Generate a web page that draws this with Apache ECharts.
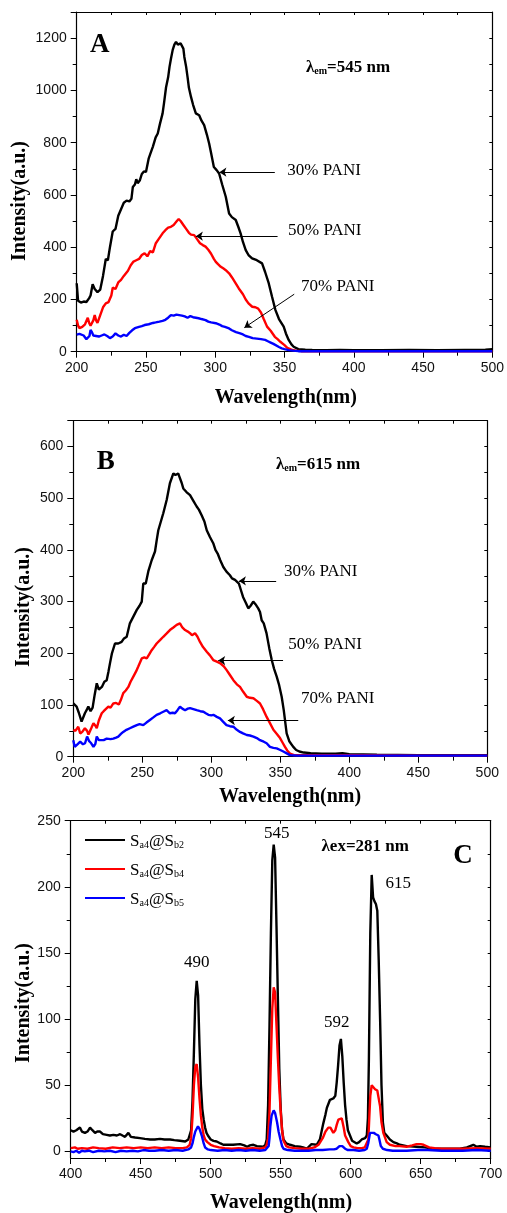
<!DOCTYPE html>
<html><head><meta charset="utf-8">
<script src="https://cdn.jsdelivr.net/npm/echarts@6/dist/echarts.min.js"></script>
<style>html,body{margin:0;padding:0;background:#fff}#c{width:507px;height:1213px}</style>
</head><body><div id="c"></div>
<script>
// ---------- Panel A (λem = 545 nm) ----------
const aBlack = [[200,262],[201,195],[203,188],[205,192],[207,190],[209,205],[210,215],[211.5,258],[213,240],[215,228],[217,238],[219,290],[221,355],[222.5,350],[224,400],[226,460],[228,470],[230,520],[232,545],[234,570],[236,578],[238,575],[239.5,585],[240.5,630],[242,640],[243,660],[244,645],[245.5,655],[247,680],[248.5,690],[250,688],[252,740],[253,755],[255,785],[257,820],[258.5,835],[260,870],[262,912],[263,950],[264.5,1012],[266,1050],[267,1090],[268,1120],[269.3,1155],[270.5,1175],[271.7,1186],[273,1175],[274,1168],[275,1180],[276,1186],[277,1160],[277.7,1128],[279,1090],[280,1052],[281,1010],[282.5,975],[284,945],[286,912],[287,905],[288.4,905],[290,885],[292,867],[294,830],[295.6,797],[297,760],[299,707],[301,695],[302.8,682],[305,640],[307.6,593],[310,529],[312,515],[314.8,504],[316.5,480],[318.3,453],[320,420],[322,389],[324,370],[326.6,357],[330,350],[333.8,338],[336,305],[338.6,262],[341,210],[343.4,160],[346,125],[349.4,96],[351,70],[353,45],[355,28],[356.6,19],[358,13],[360,10],[365,8],[370,7],[380,6],[390,7],[400,6],[420,6],[440,7],[460,6],[480,7],[495,8],[500,10]];
const aRed = [[200,122],[201,100],[202,90],[204,95],[206,105],[208,130],[209,110],[210,100],[212,120],[213,140],[214,120],[215,110],[217,140],[219,170],[221,185],[223,190],[225,215],[226,245],[228,240],[230,265],[232,275],[234,290],[235,293],[237,310],[239,331],[241,345],[243,350],[245,355],[247,370],[249,377],[251,365],[253,385],[255,380],[257,414],[259,430],[262,453],[264,465],[266,475],[268,478],[270,485],[272,498],[273.6,508],[275,500],[277,485],[279,470],[281,455],[282.5,448],[284.8,446],[287,430],[289,415],[291,408],[293,402],[295,390],[297,375],[299,355],[300.4,344],[302,335],[304,325],[306,318],[307.6,312],[310,300],[312,285],[314,268],[317,242],[320,220],[322,200],[324,185],[326.7,172],[329,170],[331,165],[333,150],[335,125],[337.4,96],[340,80],[343,57],[345,48],[347,38],[350,25],[352,15],[355,8],[358,4],[362,2],[380,2],[420,2],[460,2],[500,2]];
const aBlue = [[200,65],[202,68],[203,70],[205,62],[207,48],[208.4,42],[209.2,60],[210,83],[211,75],[212,62],[214,60],[216,58],[218,62],[220,66],[222,60],[224,52],[226,58],[228,70],[230,62],[232,58],[234,65],[236,60],[238,72],[240,82],[242,90],[245,95],[247,98],[249,102],[252,105],[255,110],[257,112],[259.7,115],[262,118],[264,122],[266,130],[268,140],[270,138],[272,142],[274,140],[276,138],[278,135],[280,130],[282,136],[284,132],[286,130],[288,128],[290,125],[293,121],[295,115],[297,112],[300.4,109],[303,104],[305,98],[307,95],[310,89],[312,82],[315,75],[318,70],[320,66],[322,60],[324.3,57],[327,52],[330,50],[333,48],[336,45],[338,40],[340,35],[342,30],[343.4,26],[346,18],[348,13],[350,10],[353,6],[356,4],[360,2],[380,2],[420,2],[460,2],[500,2]];

// ---------- Panel B (λem = 615 nm) ----------
const bBlack = [[200,103],[201,100],[202.4,97],[204,85],[206,68],[207,70],[208.4,84],[210,92],[210.9,97],[212.5,88],[214,95],[215.5,120],[217,142],[218.5,130],[220.7,135],[222.5,145],[224.2,148],[225.5,165],[226.6,181],[228,200],[230.2,219],[232.6,219],[235,222],[236.5,228],[238.7,232],[241,258],[243.5,271],[246,284],[248,292],[249.6,300],[250.7,335],[252.5,335],[254.5,360],[256.8,380],[259.2,397],[260.5,420],[261.6,438],[263,440],[265.2,471],[267.7,497],[270,529],[272.5,548],[274,545],[275,542],[276,548],[277.3,550],[278.5,530],[279.7,519],[282,512],[284.6,506],[287,495],[289.4,484],[291,478],[293,467],[295,455],[296.7,438],[299,425],[301.4,413],[303,400],[304.6,393],[306.5,380],[308.7,367],[311,358],[313.5,351],[315,345],[317.2,342],[320,335],[321.5,322],[323,309],[325,298],[326.8,287],[328.5,292],[330.4,300],[332,295],[334,287],[335.3,280],[336.5,264],[338,258],[340,239],[342,210],[343.8,187],[345.5,170],[347.4,155],[349,140],[351,116],[352.5,90],[354.6,45],[356.5,30],[359.4,19],[361.5,13],[363.8,10],[367,8],[372,7],[380,6],[390,6],[395,7],[400,5],[420,4],[450,3],[480,3],[500,3]];
const bRed = [[200,52],[201.5,50],[203.6,58],[205,45],[206.5,48],[208.4,55],[210,50],[211,43],[213,55],[214.6,65],[216,60],[217,55],[218.5,70],[220.6,84],[222,88],[223.5,92],[225.4,97],[227,95],[229,103],[231,104],[233,101],[234.5,110],[236.2,123],[238,128],[239.9,135],[241.5,145],[243.5,155],[245.5,165],[247,174],[249.6,190],[251.5,192],[253.2,190],[255,198],[256.8,206],[258.5,212],[260.4,219],[263,226],[265.2,232],[267.5,238],[270,245],[272.5,250],[274.9,255],[276,253],[277.3,258],[279,250],[281,245],[283,242],[284.6,239],[286,235],[288.2,239],[290,232],[291.8,222],[294,212],[296.7,203],[299,196],[301.4,187],[304,184],[306.3,181],[309,175],[311,168],[313.5,158],[316,148],[318.5,140],[320.8,135],[323,126],[325.7,116],[328,114],[330.5,113],[333,108],[335.3,103],[337.5,92],[340.1,77],[342.5,65],[345,52],[347.5,44],[349.8,36],[351.5,28],[353.4,19],[355,12],[357,6],[360,3],[370,3],[400,3],[450,2],[500,2]];
const bBlue = [[200,32],[201,19],[203,24],[205,29],[207,24],[208.5,26],[210,39],[211.5,30],[213,26],[214.6,19],[216,25],[217,39],[218.5,32],[219.5,29],[222,32],[224.2,35],[227,34],[229,35],[231,37],[232.6,39],[234.5,44],[236.2,48],[238.5,52],[241,55],[243.5,58],[246,61],[248,63],[250.7,61],[253,66],[255.5,71],[258,76],[260.4,81],[263,84],[265.2,87],[267.6,90],[270,84],[272,85],[273.7,84],[275.5,90],[277.3,97],[279,93],[281,90],[283,93],[284.6,94],[287,92],[289.4,90],[292,88],[294.3,87],[296,84],[297.9,81],[300,80],[301.5,81],[304,77],[306.3,74],[308.5,68],[311,61],[313.5,59],[316,58],[318.5,52],[320.8,48],[323,45],[325.7,42],[328,41],[330.5,39],[333,36],[335.3,32],[338,29],[340.1,26],[342.5,19],[345,17],[347.4,16],[350,13],[352.2,10],[355,6],[357,3],[362,2],[400,2],[450,2],[500,2]];

// ---------- Panel C (λex = 281 nm) ----------
const cBlack = [[400,16],[402,15],[404,16],[406.6,18],[408,15],[410.2,14],[412,15],[413.8,18],[415.5,16],[417.4,14],[419,15],[421,15],[423,13],[425.7,12.5],[428,12],[430.5,12.5],[433,12],[435.3,13],[437,12],[438.8,11],[441.2,14],[443,11],[446,10.5],[449.5,10],[453,9.5],[456.7,9],[460,9],[463.8,9.5],[467,9],[471,9],[474,8.5],[478,8],[481.8,7.5],[483,8],[484,9],[485,10],[486,16],[487,38],[488,75],[489,115],[490,129],[491,118],[492,80],[493,50],[494,32],[495,24],[496,18],[497,14],[498,12],[500,9],[502,8],[504.3,7.5],[507,6],[509,5],[512,5],[516,5],[521,5.5],[524,4.5],[526,3.5],[528,4.5],[530.5,5],[533,4],[537.5,3.5],[539,5],[540,9],[541,35],[542,95],[543,165],[544,220],[545,232],[546,222],[547,170],[548,115],[549,62],[550,32],[551,16],[552,9],[554,6],[556.7,5],[560,4],[563.8,3.5],[566,3],[568.6,2],[570,3],[572,5.5],[575.7,5],[578,9],[579,14],[580.4,21],[582,28],[583,33],[585.2,39],[587.6,40],[589,42],[590,52],[591,65],[592,80],[593,85],[594,72],[595,52],[596,35],[597,24],[598,16],[599.5,12],[601,8],[602,7],[604.3,6],[606,7],[607.9,9],[610.3,10],[611.5,12],[612.3,25],[613,70],[614,165],[615,209],[616,192],[617,189],[618,187],[619,182],[620,145],[621,100],[622,50],[623,22],[624,14],[625.7,12],[628,9],[630.5,7],[633,6],[635,5],[640,4],[647,3.5],[653,3],[659,2],[665,2],[672,2],[678,2],[683,3],[687.6,5],[690,3.5],[692.4,4],[696,3.5],[700,3]];
const cRed = [[400,2.5],[403,3],[405,2],[408,2.5],[412,2],[416,3],[420,2.5],[425,2],[430,3],[435,2.5],[440,3],[445,2.5],[450,3],[455,2.5],[460,3],[465,2.5],[470,3],[475,2.5],[480,2.5],[483,3],[485,5],[486,10],[487,26],[488,50],[489,64],[490,66],[491,56],[492,40],[493,27],[494,18],[495,12],[496,9],[497.6,7],[500,5],[502.4,4],[506,3],[510,2.5],[515,2],[520,2.5],[525,2],[530,2.5],[535,2],[539,3],[540,5],[541,10],[542,30],[543,70],[544,108],[545,124],[546,120],[547,95],[548,70],[549,48],[550,30],[551,16],[552,8],[554,4],[556,3],[560,2.5],[565,2],[570,2],[574,3],[577,5],[580,10],[582,15],[584,18],[585.5,18],[587.6,14],[589,16],[590,20],[591.2,24],[592.5,25],[593.6,25],[595,18],[596,12],[598.3,7],[600,4],[602,3],[605,2.5],[608,2.5],[610,3],[611.4,4],[612.6,9],[613.3,26],[614,42],[615,50],[616,49],[617.4,47],[619,46],[619.8,45],[621,34],[622,22],[623.3,14],[625.7,7],[628,5],[632,4],[635,4],[640,3.5],[644,4.5],[647,5.5],[650,5.5],[652,5],[656,3],[660,2.5],[665,2],[671,2],[680,2],[690,2.5],[700,2]];
const cBlue = [[400,0],[402,-0.5],[404,0.5],[406,-1],[408,0.5],[410,0],[413,0.5],[416,-0.5],[420,0.5],[424,0],[428,0.5],[432,-0.5],[436,0.5],[440,0],[444,0.5],[448,0],[452,1],[456,0.5],[460,0.5],[465,1],[470,0.5],[475,1],[480,0.5],[484,1.5],[486,3],[487,6],[488,11],[489,15],[490.9,19],[492,17],[493.6,12],[495,6],[496,3],[498,1.5],[500,1],[505,0.5],[510,1],[515,0.5],[520,1],[525,0.5],[530,1],[535,0.5],[539,1],[540,2],[541.4,4],[542,10],[542.6,19],[543.5,27],[545,31],[546,29],[547.4,22],[548.5,15],[549.8,9],[551,4],[552,2],[555,1],[560,0.5],[565,0.5],[570,0.5],[575,1],[580,1],[585,1.5],[588,1.5],[590,2],[592,4],[592.9,5],[594,4],[596,2],[598,1],[602,1],[606,0.5],[610,1],[611.5,2],[612.5,6],[613.8,14],[615,13.5],[616.5,14],[618,13],[619.8,12],[620.5,9],[621.5,4],[623,2],[626,1],[630,0.5],[640,0.5],[648,1],[655,1],[665,0.5],[680,0.5],[690,1],[700,0.5]];

// ---------- labels / ticks ----------
const seriesNamesAB = ['30% PANI', '50% PANI', '70% PANI'];
const seriesNamesC = ['Sa4@Sb2', 'Sa4@Sb4', 'Sa4@Sb5'];
const legendRich = {'Sa4@Sb2': ['a4','b2'], 'Sa4@Sb4': ['a4','b4'], 'Sa4@Sb5': ['a4','b5']};
const peakLabelsC = ['490', '545', '592', '615'];
const cYTicks = [0, 50, 100, 150, 200, 250];
const cYMinor = [25, 75, 125, 175, 225];
const cYAll = [0, 25, 50, 75, 100, 125, 150, 175, 200, 225, 250];
// arrows (data coordinates): [from, to]
const arrowsA = [[[343, 687], [303, 687]], [[345, 442], [286, 442]], [[357, 220], [321, 92]]];
const arrowsB = [[[347, 340], [320, 340]], [[352, 186], [305, 186]], [[363, 70], [312, 70]]];

const SANS = '"Liberation Sans", Arial, sans-serif';
const SERIF = '"Liberation Serif", "Times New Roman", serif';
const AX = '#000';
const plain = v => String(v);

const grids = [
  {left: 76.7, top: 12, width: 418.3, height: 339.7},
  {left: 73.3, top: 420.7, width: 414, height: 336},
  {left: 70.7, top: 820.7, width: 420, height: 337.3}
];

function bottomX(g, min, max) {
  return {type: 'value', gridIndex: g, position: 'bottom', min, max, interval: 50,
    axisLine: {show: true, onZero: false, lineStyle: {color: AX, width: 1.2}},
    axisTick: {show: true, inside: false, length: 6, lineStyle: {color: AX}},
    minorTick: {show: true, splitNumber: 2, length: 4, lineStyle: {color: AX}},
    axisLabel: {show: true, fontFamily: SANS, fontSize: 14, color: '#111', margin: 9, formatter: plain},
    splitLine: {show: false}, minorSplitLine: {show: false}};
}
function topX(g, min, max) {
  return {type: 'value', gridIndex: g, position: 'top', min, max, interval: 25,
    axisLine: {show: true, onZero: false, lineStyle: {color: AX, width: 1.2}},
    axisTick: {show: true, inside: true, length: 3, lineStyle: {color: AX}},
    axisLabel: {show: false}, splitLine: {show: false}};
}
function leftY(g, min, max, interval) {
  return {type: 'value', gridIndex: g, position: 'left', min, max, interval,
    axisLine: {show: true, onZero: false, lineStyle: {color: AX, width: 1.2}},
    axisTick: {show: true, inside: false, length: 6, lineStyle: {color: AX}},
    minorTick: {show: true, splitNumber: 2, length: 4, lineStyle: {color: AX}},
    axisLabel: {show: true, fontFamily: SANS, fontSize: 14, color: '#111', margin: 10, showMaxLabel: false, formatter: plain},
    splitLine: {show: false}, minorSplitLine: {show: false}};
}
function rightY(g, min, max, interval) {
  return {type: 'value', gridIndex: g, position: 'right', min, max, interval,
    axisLine: {show: true, onZero: false, lineStyle: {color: AX, width: 1.2}},
    axisTick: {show: true, inside: true, length: 3, lineStyle: {color: AX}},
    minorTick: {show: true, splitNumber: 2, length: 3, lineStyle: {color: AX}},
    axisLabel: {show: false}, splitLine: {show: false}, minorSplitLine: {show: false}};
}

const xAxis = [bottomX(0, 200, 500), topX(0, 200, 500), bottomX(1, 200, 500), topX(1, 200, 500), bottomX(2, 400, 700), topX(2, 400, 700)];
const yAxis = [
  leftY(0, 0, 1300, 200), rightY(0, 0, 1300, 200),
  leftY(1, 0, 650, 100), rightY(1, 0, 650, 100),
  {type: 'value', gridIndex: 2, position: 'left', min: -5, max: 250,
    axisLine: {show: true, onZero: false, lineStyle: {color: AX, width: 1.2}},
    axisTick: {show: true, inside: false, length: 6, customValues: cYTicks, lineStyle: {color: AX}},
    axisLabel: {show: true, customValues: cYTicks, fontFamily: SANS, fontSize: 14, color: '#111', margin: 10, formatter: plain},
    splitLine: {show: false}},
  {type: 'value', gridIndex: 2, position: 'right', min: -5, max: 250,
    axisLine: {show: true, onZero: false, lineStyle: {color: AX, width: 1.2}},
    axisTick: {show: true, inside: true, length: 3, customValues: cYAll, lineStyle: {color: AX}},
    axisLabel: {show: false}, splitLine: {show: false}},
  {type: 'value', gridIndex: 2, position: 'left', min: -5, max: 250,
    axisLine: {show: false},
    axisTick: {show: true, inside: false, length: 4, customValues: cYMinor, lineStyle: {color: AX}},
    axisLabel: {show: false}, splitLine: {show: false}}
];

function ln(name, data, color, xi, yi, extra) {
  return Object.assign({type: 'line', name, data, xAxisIndex: xi, yAxisIndex: yi,
    symbol: 'none', showSymbol: false, silent: true, animation: false,
    lineStyle: {color, width: 2.4}, itemStyle: {color}}, extra || {});
}
function arrowMark(list) {
  return {markLine: {silent: true, animation: false, symbol: ['none', 'arrow'], symbolSize: 7, precision: 3,
    label: {show: false}, lineStyle: {color: '#000', width: 1, type: 'solid'},
    emphasis: {disabled: true},
    data: list.map(a => [{coord: a[0]}, {coord: a[1]}])}};
}

const series = [
  ln('A ' + seriesNamesAB[0], aBlack, '#000', 0, 0, arrowMark(arrowsA)),
  ln('A ' + seriesNamesAB[1], aRed, '#ff0000', 0, 0),
  ln('A ' + seriesNamesAB[2], aBlue, '#0000ff', 0, 0),
  ln('B ' + seriesNamesAB[0], bBlack, '#000', 2, 2, arrowMark(arrowsB)),
  ln('B ' + seriesNamesAB[1], bRed, '#ff0000', 2, 2),
  ln('B ' + seriesNamesAB[2], bBlue, '#0000ff', 2, 2),
  ln(seriesNamesC[0], cBlack, '#000', 4, 4),
  ln(seriesNamesC[1], cRed, '#ff0000', 4, 4),
  ln(seriesNamesC[2], cBlue, '#0000ff', 4, 4)
];

function txt(x, y, text, font, align, extra) {
  return Object.assign({type: 'text', x, y, silent: true, z: 100,
    style: {text, font, fill: '#000', align: align || 'left', verticalAlign: 'middle', textAlign: align || 'left', textVerticalAlign: 'middle'}}, extra || {});
}
const annFont = '17px ' + SERIF;
const titleFont = 'bold 20px ' + SERIF;
const lamRich = {b: {font: 'bold 17px ' + SERIF, lineHeight: 20, verticalAlign: 'bottom'}, s: {font: 'bold 10px ' + SERIF, lineHeight: 10, verticalAlign: 'bottom'}};

const graphic = [
  // panel letters
  txt(99.7, 45, 'A', 'bold 27px ' + SERIF, 'center'),
  txt(105.8, 462.5, 'B', 'bold 27px ' + SERIF, 'center'),
  txt(463, 856, 'C', 'bold 27px ' + SERIF, 'center'),
  // excitation / emission
  {type: 'text', x: 306, y: 66, z: 100, silent: true, style: {text: '{b|λ}{s|em}{b|=545 nm}', rich: lamRich, verticalAlign: 'middle', textVerticalAlign: 'middle', fill: '#000'}},
  {type: 'text', x: 276, y: 463, z: 100, silent: true, style: {text: '{b|λ}{s|em}{b|=615 nm}', rich: lamRich, verticalAlign: 'middle', textVerticalAlign: 'middle', fill: '#000'}},
  txt(321.5, 846.7, 'λex=281 nm', 'bold 17px ' + SERIF, 'left'),
  // arrow labels
  txt(287.3, 171, seriesNamesAB[0], annFont), txt(288, 231, seriesNamesAB[1], annFont), txt(301, 287, seriesNamesAB[2], annFont),
  txt(284, 572, seriesNamesAB[0], annFont), txt(288.3, 645, seriesNamesAB[1], annFont), txt(301, 699, seriesNamesAB[2], annFont),
  // peak labels
  txt(196.7, 962.7, peakLabelsC[0], annFont, 'center'),
  txt(276.7, 833.3, peakLabelsC[1], annFont, 'center'),
  txt(336.7, 1022.7, peakLabelsC[2], annFont, 'center'),
  txt(398.3, 883.3, peakLabelsC[3], annFont, 'center'),
  // axis titles
  txt(285.8, 398, 'Wavelength(nm)', titleFont, 'center'),
  txt(290, 796.5, 'Wavelength(nm)', titleFont, 'center'),
  txt(281, 1203, 'Wavelength(nm)', titleFont, 'center'),
  txt(20, 201, 'Intensity(a.u.)', titleFont, 'center', {rotation: Math.PI / 2}),
  txt(24, 607, 'Intensity(a.u.)', titleFont, 'center', {rotation: Math.PI / 2}),
  txt(24, 1003, 'Intensity(a.u.)', titleFont, 'center', {rotation: Math.PI / 2})
];

const chart = echarts.init(document.getElementById('c'), null, {renderer: 'canvas'});
chart.setOption({
  animation: false,
  backgroundColor: '#fff',
  grid: grids,
  xAxis, yAxis, series, graphic,
  legend: {
    data: seriesNamesC, orient: 'vertical', left: 85, top: 833, padding: 0, itemWidth: 40, itemHeight: 14, itemGap: 12,
    icon: 'path://M0,6L40,6L40,8L0,8Z',
    selectedMode: false,
    formatter: function (name) { const r = legendRich[name]; return '{n|S}{s|' + r[0] + '}{n|@S}{s|' + r[1] + '}'; },
    textStyle: {color: '#000', fontFamily: SERIF, fontSize: 17,
      rich: {n: {fontFamily: SERIF, fontSize: 17, lineHeight: 20, verticalAlign: 'bottom'}, s: {fontFamily: SERIF, fontSize: 10, lineHeight: 10, verticalAlign: 'bottom'}}}
  }
});
</script></body></html>
